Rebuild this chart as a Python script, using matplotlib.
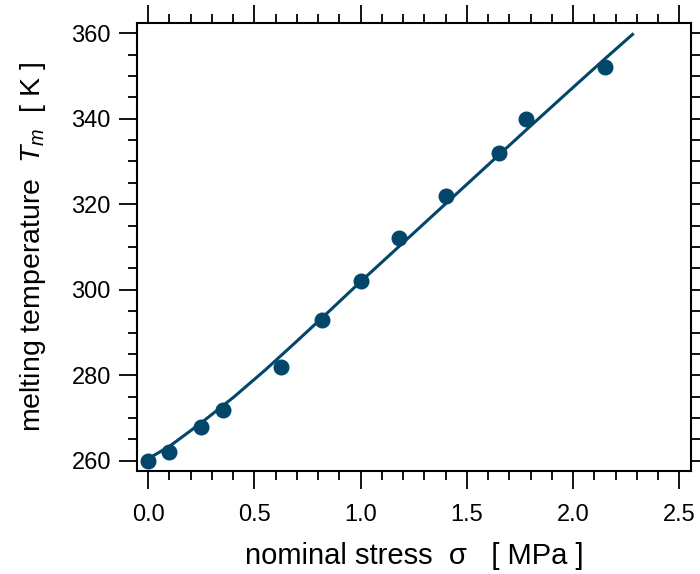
import matplotlib
matplotlib.use('Agg')
import matplotlib.pyplot as plt
from matplotlib.ticker import MultipleLocator

plt.rcParams['font.family'] = ['Liberation Sans', 'DejaVu Sans']
plt.rcParams['mathtext.fontset'] = 'custom'
plt.rcParams['mathtext.rm'] = 'Liberation Sans'
plt.rcParams['mathtext.it'] = 'Liberation Sans:italic'

# measured points
stress = [0.0, 0.1, 0.25, 0.35, 0.625, 0.816, 1.0, 1.18, 1.40, 1.65, 1.78, 2.15]
temp = [260, 262, 268, 272, 282, 293, 302, 312, 322, 332, 340, 352]

# fitted curve
fit_x = [0.0, 0.1, 0.25, 0.4, 0.55, 0.7, 0.85, 1.0, 1.2, 1.4, 1.6, 1.8, 2.0, 2.15, 2.28]
fit_y = [260.5, 263.4, 268.9, 274.8, 281.2, 288.0, 294.9, 301.9, 311.0, 320.1, 329.2, 338.3, 347.3, 354.0, 359.7]

col = '#02466a'

fig = plt.figure(figsize=(7.0, 5.74), dpi=100)
ax = fig.add_axes([0.1957, 0.1800, 0.7910, 0.7794])

ax.plot(fit_x, fit_y, color=col, lw=2.2, zorder=2)
ax.plot(stress, temp, 'o', color=col, ms=10.5, zorder=3)

ax.set_xlim(-0.053, 2.554)
ax.set_ylim(257.7, 362.3)
ax.xaxis.set_major_locator(MultipleLocator(0.5))
ax.xaxis.set_minor_locator(MultipleLocator(0.1))
ax.yaxis.set_major_locator(MultipleLocator(20))
ax.yaxis.set_minor_locator(MultipleLocator(5))
ax.xaxis.set_major_formatter(matplotlib.ticker.FormatStrFormatter('%.1f'))

for s in ax.spines.values():
    s.set_linewidth(1.5)
ax.tick_params(which='both', direction='out', top=True, right=True, width=1.3, labelsize=17)
ax.tick_params(which='major', length=12.8)
ax.tick_params(which='minor', length=6.6)
ax.tick_params(axis='x', which='major', pad=11)
ax.tick_params(axis='y', which='major', pad=6)

ax.set_xlabel('nominal stress  σ   [ MPa ]', fontsize=21, labelpad=12)
ax.set_ylabel('melting temperature  $T_m$  [ K ]', fontsize=20.5, labelpad=17)

fig.savefig('out.png', dpi=100)
